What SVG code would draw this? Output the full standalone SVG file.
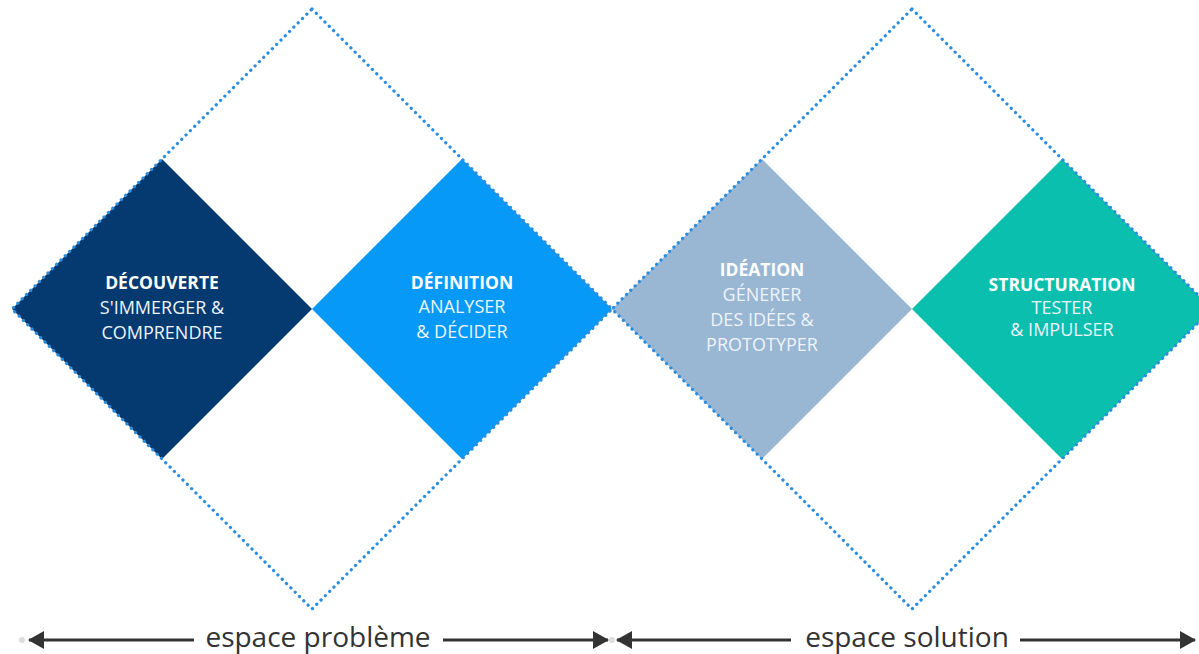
<svg xmlns="http://www.w3.org/2000/svg" width="1199" height="654" viewBox="0 0 1199 654">
  <style>
    text { font-family: "Open Sans", "Liberation Sans", sans-serif; text-anchor: middle; }
    .t { font-size: 17.5px; font-weight: 700; fill: #ffffff; }
    .s { font-size: 18px; fill: #eef4fb; }
    .outline { fill: none; stroke: #2a8de0; stroke-width: 3.2; stroke-dasharray: 0.1 6; stroke-linecap: round; }
    .axis { stroke: #333333; stroke-width: 3; }
    .axislabel { font-size: 28px; fill: #333333; }
    .dot { fill: #dddddd; }
  </style>
  <defs>
    <marker id="ah" viewBox="0 0 16 18" refX="15" refY="9" markerWidth="16" markerHeight="18" markerUnits="userSpaceOnUse" orient="auto-start-reverse">
      <path d="M0,0 L16,9 L0,18 Z" fill="#333333"/>
    </marker>
  </defs>
  <rect width="1199" height="654" fill="#ffffff"/>

  <g id="decouverte">
    <path d="M162,159 L312,309 L162,459 L12,309 Z" fill="#053a70"/>
    <text class="t" x="162" y="289">DÉCOUVERTE</text>
    <text class="s" x="162" y="314">S'IMMERGER &amp;</text>
    <text class="s" x="162" y="339">COMPRENDRE</text>
  </g>
  <g id="definition">
    <path d="M462,159 L612,309 L462,459 L312,309 Z" fill="#0799f7"/>
    <text class="t" x="462" y="289">DÉFINITION</text>
    <text class="s" x="462" y="313">ANALYSER</text>
    <text class="s" x="462" y="338">&amp; DÉCIDER</text>
  </g>
  <g id="ideation">
    <path d="M762,159 L912,309 L762,459 L612,309 Z" fill="#99b7d3"/>
    <text class="t" x="762" y="276">IDÉATION</text>
    <text class="s" x="762" y="301">GÉNERER</text>
    <text class="s" x="762" y="326">DES IDÉES &amp;</text>
    <text class="s" x="762" y="351">PROTOTYPER</text>
  </g>
  <g id="structuration">
    <path d="M1062,159 L1212,309 L1062,459 L912,309 Z" fill="#0abfae"/>
    <text class="t" x="1062" y="291">STRUCTURATION</text>
    <text class="s" x="1062" y="314">TESTER</text>
    <text class="s" x="1062" y="336">&amp; IMPULSER</text>
  </g>

  <g id="espace-probleme-frame">
    <path class="outline" d="M312,9 L612,309 L312,609 L12,309 Z"/>
  </g>
  <g id="espace-solution-frame">
    <path class="outline" d="M912,9 L1212,309 L912,609 L612,309 Z"/>
  </g>

  <g id="connectors">
    <circle class="dot" cx="22" cy="640" r="3"/>
    <circle class="dot" cx="612" cy="640" r="3"/>
    <line class="axis" x1="194" y1="640" x2="29" y2="640" marker-end="url(#ah)"/>
    <line class="axis" x1="443" y1="640" x2="608" y2="640" marker-end="url(#ah)"/>
    <line class="axis" x1="791" y1="640" x2="617" y2="640" marker-end="url(#ah)"/>
    <line class="axis" x1="1020" y1="640" x2="1195" y2="640" marker-end="url(#ah)"/>
  </g>
  <g id="labels">
    <text class="axislabel" x="318" y="647">espace problème</text>
    <text class="axislabel" x="907" y="647">espace solution</text>
  </g>
</svg>
